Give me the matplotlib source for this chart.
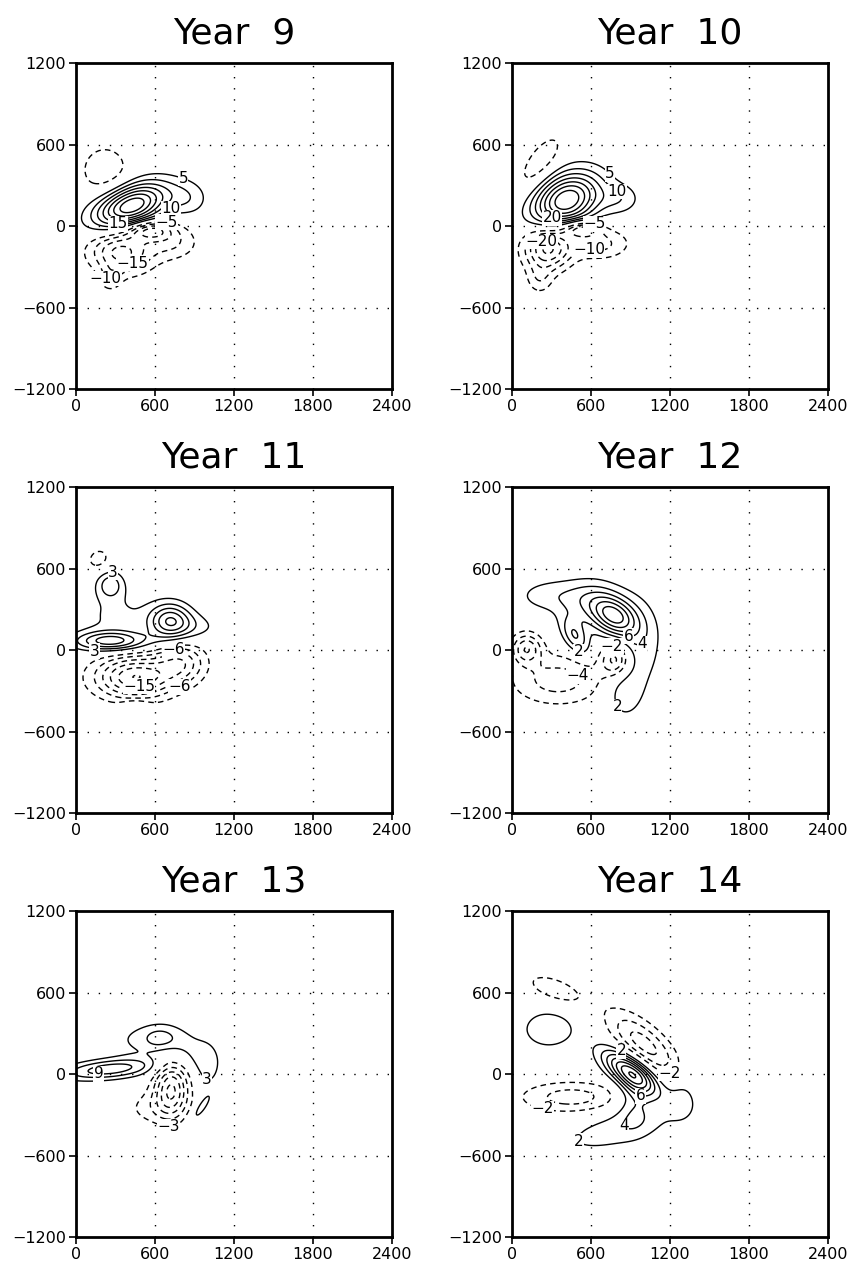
import numpy as np
import matplotlib
matplotlib.use('Agg')
import matplotlib.pyplot as plt

plt.rcParams['font.family'] = ['DejaVu Sans']

# anomaly centres per year: x, y, sx, sy, tilt (deg), amplitude
years = [9, 10, 11, 12, 13, 14]

y9_blobs = [
    (420, 150, 200, 100, 20, 40),
    (850, 200, 110, 90, 0, 8),
    (340, -190, 165, 110, -5, -22),
    (560, -30, 120, 50, 0, -20),
    (730, -120, 140, 90, 0, -10),
    (260, -380, 60, 70, 0, -8),
    (220, 410, 140, 140, 0, -9),
]
y10_blobs = [
    (415, 190, 185, 128, 25, 40),
    (820, 200, 110, 80, 0, 8),
    (270, -160, 125, 110, 0, -27),
    (520, -20, 100, 45, 0, -20),
    (660, -130, 160, 80, 0, -12),
    (210, -390, 70, 80, 0, -8),
    (210, 450, 200, 85, 55, -9),
]
y11_blobs = [
    (170, 670, 70, 60, 30, -4.5),
    (260, 480, 70, 70, 0, 7.5),
    (300, 250, 200, 150, 0, 3.5),
    (260, 65, 190, 50, 0, 13),
    (715, 220, 110, 90, 0, 13),
    (850, 170, 180, 70, 0, 4),
    (450, -200, 210, 110, 0, -18),
    (800, -90, 130, 100, 0, -10),
    (450, -410, 70, 30, 0, 4.5),
]
y12_blobs = [
    (110, 10, 80, 80, 0, -7.5),
    (350, -220, 250, 130, 0, -5),
    (790, -70, 80, 90, 0, -8),
    (775, 250, 130, 90, -30, 11),
    (480, 100, 60, 110, 30, 6),
    (300, 400, 200, 90, 0, 3),
    (600, 350, 150, 120, 0, 4),
    (950, 50, 140, 250, 0, 3.5),
    (850, -300, 100, 150, 0, 3),
]
y13_blobs = [
    (250, 35, 250, 50, 5, 11),
    (630, 260, 90, 60, 0, 5),
    (450, 250, 150, 100, 0, 3),
    (820, 220, 160, 90, -30, 4),
    (1000, 60, 70, 120, 0, 4),
    (945, -255, 100, 30, 54, 4.5),
    (725, -110, 90, 140, 0, -15),
    (580, -250, 150, 90, 0, -4),
]
y14_blobs = [
    (330, 620, 180, 70, -20, -3.3),
    (280, 330, 165, 115, 0, 3.3),
    (900, 10, 170, 70, -35, 13),
    (930, -170, 90, 150, 0, 3.5),
    (820, -400, 340, 100, 15, 3.2),
    (1300, -150, 80, 130, 0, 2.5),
    (1000, 220, 230, 95, -40, -7),
    (450, -170, 270, 80, 0, -5),
]
blobs = [y9_blobs, y10_blobs, y11_blobs, y12_blobs, y13_blobs, y14_blobs]

# contour interval for each year
intervals = [5, 5, 3, 2, 3, 2]

# contour labels: level, x, y
y9_labels = [(5, 827, 378), (10, 688, 205), (15, 321, 25), (-5, 688, 40),
             (-10, 230, -380), (-15, 420, -250)]
y10_labels = [(5, 683, 311), (10, 784, 235), (20, 304, 57), (-5, 633, 44),
              (-20, 253, -173), (-10, 582, -227)]
y11_labels = [(3, 283, 593), (3, 139, -37), (-6, 726, 86), (-15, 473, -210),
              (-6, 789, -284)]
y12_labels = [(2, 493, -49), (-4, 569, -136), (-2, 759, 62), (6, 885, 99),
              (4, 974, 62), (2, 721, -457)]
y13_labels = [(9, 170, -5), (3, 992, -49), (-3, 701, -372)]
y14_labels = [(2, 810, 136), (-2, 1202, 0), (6, 961, -224), (4, 848, -382),
              (-2, 202, -406), (2, 455, -527)]
labels = [y9_labels, y10_labels, y11_labels, y12_labels, y13_labels, y14_labels]

xg = np.linspace(0, 2400, 481)
yg = np.linspace(-1200, 1200, 481)
X, Y = np.meshgrid(xg, yg)


def field(params):
    z = np.zeros_like(X)
    for x0, y0, sx, sy, th, a in params:
        t = np.deg2rad(th)
        u = (X - x0) * np.cos(t) + (Y - y0) * np.sin(t)
        v = -(X - x0) * np.sin(t) + (Y - y0) * np.cos(t)
        z += a * np.exp(-0.5 * ((u / sx) ** 2 + (v / sy) ** 2))
    return z


fig = plt.figure(figsize=(8.51, 12.66), dpi=100)
lefts = [0.0893, 0.6016]
bottoms = [0.6927, 0.3578, 0.0229]
w, h = 0.3713, 0.2575

for i, yr in enumerate(years):
    ax = fig.add_axes([lefts[i % 2], bottoms[i // 2], w, h])
    z = field(blobs[i])
    d = intervals[i]
    lev = np.arange(-60, 61, d)
    lev = lev[lev != 0]
    lev = lev[(lev > z.min()) & (lev < z.max())]
    ls = ['solid' if l > 0 else (0, (4, 3)) for l in lev]
    cs = ax.contour(X, Y, z, levels=lev, colors='k', linewidths=1.0,
                    linestyles=ls)

    # snap each label onto its own contour line
    for lv, lx, ly in labels[i]:
        k = list(cs.levels).index(lv)
        segs = [s for s in cs.allsegs[k] if len(s)]
        pts = np.vstack(segs)
        j = np.argmin((pts[:, 0] - lx) ** 2 + (pts[:, 1] - ly) ** 2)
        ax.text(pts[j, 0], pts[j, 1], str(lv).replace('-', '\u2212'),
                fontsize=11, ha='center', va='center', zorder=5,
                bbox=dict(fc='white', ec='none', pad=0.2))

    ax.set_xlim(0, 2400)
    ax.set_ylim(-1200, 1200)
    ax.set_xticks([0, 600, 1200, 1800, 2400])
    ax.set_yticks([-1200, -600, 0, 600, 1200])
    ax.tick_params(direction='out', length=5, width=1.2, labelsize=11.5,
                   pad=2)
    for g in [600, 1200, 1800]:
        ax.axvline(g, color='k', lw=1.0, ls=(0, (1, 7)), zorder=0)
    for g in [-600, 0, 600]:
        ax.axhline(g, color='k', lw=1.0, ls=(0, (1, 7)), zorder=0)
    for s in ax.spines.values():
        s.set_linewidth(2)
    ax.set_title(f'Year  {yr}', fontsize=26, pad=14)

fig.savefig('out.png', dpi=100)
